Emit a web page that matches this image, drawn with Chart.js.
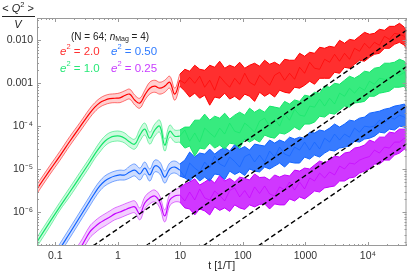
<!DOCTYPE html>
<html lang="en">
<head>
    <meta charset="UTF-8">
    <title>Topological susceptibility vs time</title>
    <script src="https://cdn.jsdelivr.net/npm/chart.js"></script>
    <style>
        body { margin: 0; background: #fff; }
        #chart { display: block; }
    </style>
</head>
<body>
    <canvas id="chart" width="409" height="272"></canvas>
    <script>
        // time grid (units of 1/T)
        const tSmooth = [0.051, 0.082, 0.118, 0.171, 0.247, 0.357, 0.429, 0.516, 0.62, 0.745, 0.895, 1.08,
            1.29, 1.55, 1.87, 2.25, 2.7, 3.24, 3.9, 4.69, 5.63, 6.77, 8.14, 9.8];
        const tNoisy = [9.8, 11.8, 14.1, 17.0, 20.4, 24.5, 29.5, 35.4, 42.6, 51.2, 61.5, 74.0, 88.9, 107, 128,
            154, 185, 223, 268, 322, 387, 465, 559, 672, 808, 971, 1170, 1400, 1690, 2030, 2440, 2930, 3520,
            4230, 5080, 6110, 7340, 8830, 10600, 12700, 15300, 18400, 22100, 26600, 32000, 38500, 41400];

        // e^2 = 2.0
        const redMid = [3.5e-6, 9.6e-6, 2.03e-5, 4.5e-5, 9.6e-5, 2.02e-4, 2.79e-4, 3.55e-4, 4.05e-4, 4.4e-4, 4.5e-4, 4.6e-4,
            5.2e-4, 5.6e-4, 4.05e-4, 3.46e-4, 5.3e-4, 7.7e-4, 8.6e-4, 7.7e-4, 8.6e-4, 1.06e-3, 5.6e-4, 1.18e-3];
        const redHi = [4.45e-6, 1.22e-5, 2.6e-5, 5.8e-5, 1.21e-4, 2.6e-4, 3.55e-4, 4.5e-4, 5.2e-4, 5.6e-4, 5.7e-4, 6.0e-4,
            6.7e-4, 7.3e-4, 5.3e-4, 4.5e-4, 6.9e-4, 1.06e-3, 1.18e-3, 1.06e-3, 1.18e-3, 1.46e-3, 7.7e-4, 1.63e-3];
        const redLo = [2.74e-6, 7.6e-6, 1.6e-5, 3.56e-5, 7.5e-5, 1.59e-4, 2.19e-4, 2.79e-4, 3.19e-4, 3.46e-4, 3.55e-4, 3.55e-4,
            3.95e-4, 4.28e-4, 3.12e-4, 2.64e-4, 4.05e-4, 5.6e-4, 6.2e-4, 5.6e-4, 6.2e-4, 7.7e-4, 4.05e-4, 8.6e-4];
        const redNoiseHi = [1.63e-3, 2.12e-3, 1.91e-3, 2.63e-3, 2.12e-3, 2.01e-3, 2.63e-3, 2.36e-3, 3.26e-3, 2.24e-3,
            2.63e-3, 2.36e-3, 3.09e-3, 2.24e-3, 2.63e-3, 2.93e-3, 2.49e-3, 3.44e-3, 2.77e-3, 3.09e-3, 2.63e-3, 3.62e-3,
            3.44e-3, 3.44e-3, 4.99e-3, 4.25e-3, 5.27e-3, 4.99e-3, 6.88e-3, 6.52e-3, 7.26e-3, 6.88e-3, 1.0e-2, 8.52e-3,
            1.05e-2, 1.0e-2, 1.24e-2, 1.53e-2, 1.38e-2, 1.45e-2, 1.80e-2, 1.71e-2, 2.11e-2, 2.11e-2, 2.48e-2, 2.0e-2, 1.62e-2];
        const redNoiseMid = [1.18e-3, 1.0e-3, 1.38e-3, 1.0e-3, 1.46e-3, 8.1e-4, 1.18e-3, 6.9e-4, 1.46e-3, 1.06e-3, 8.1e-4,
            1.31e-3, 9.5e-4, 1.71e-3, 1.06e-3, 9.0e-4, 1.54e-3, 1.18e-3, 9.0e-4, 1.54e-3, 1.81e-3, 1.18e-3, 1.71e-3,
            1.24e-3, 2.36e-3, 1.71e-3, 3.09e-3, 2.24e-3, 2.12e-3, 3.62e-3, 3.09e-3, 4.73e-3, 3.26e-3, 4.99e-3, 3.62e-3,
            6.52e-3, 5.56e-3, 8.52e-3, 6.52e-3, 8.99e-3, 7.66e-3, 1.24e-2, 1.05e-2, 1.45e-2, 1.38e-2, 1.24e-2, 1.0e-2];
        const redNoiseLo = [8.6e-4, 6.6e-4, 4.8e-4, 5.9e-4, 4.5e-4, 5.3e-4, 3.1e-4, 4.8e-4, 4.5e-4, 5.9e-4, 4.3e-4,
            5.0e-4, 4.1e-4, 5.6e-4, 5.0e-4, 3.8e-4, 6.2e-4, 5.0e-4, 5.9e-4, 4.8e-4, 6.9e-4, 6.2e-4, 5.9e-4, 8.1e-4,
            7.7e-4, 9.0e-4, 1.12e-3, 9.5e-4, 1.31e-3, 1.31e-3, 1.31e-3, 1.81e-3, 1.71e-3, 2.36e-3, 2.24e-3, 2.77e-3,
            3.44e-3, 3.26e-3, 4.03e-3, 4.73e-3, 4.99e-3, 6.52e-3, 6.52e-3, 8.07e-3, 8.99e-3, 7.66e-3, 6.18e-3];

        // e^2 = 1.0
        const greenMid = [2.06e-7, 6.0e-7, 1.34e-6, 2.97e-6, 6.6e-6, 1.48e-5, 2.26e-5, 3.29e-5, 4.5e-5, 5.45e-5, 5.9e-5, 5.9e-5,
            5.3e-5, 4.3e-5, 3.86e-5, 6.25e-5, 8.6e-5, 5.3e-5, 8.2e-5, 1.01e-4, 3.66e-5, 7.7e-5, 5.9e-5, 5.9e-5];
        const greenHi = [2.62e-7, 7.6e-7, 1.7e-6, 3.8e-6, 8.45e-6, 1.88e-5, 2.88e-5, 4.3e-5, 5.9e-5, 7.15e-5, 7.7e-5, 7.7e-5,
            7.0e-5, 5.6e-5, 5.05e-5, 8.6e-5, 1.19e-4, 7.3e-5, 1.13e-4, 1.39e-4, 5.05e-5, 1.07e-4, 8.2e-5, 8.2e-5];
        const greenLo = [1.6e-7, 4.7e-7, 1.11e-6, 2.34e-6, 5.2e-6, 1.16e-5, 1.78e-5, 2.52e-5, 3.47e-5, 4.2e-5, 4.5e-5, 4.5e-5,
            4.07e-5, 3.29e-5, 2.96e-5, 4.5e-5, 6.25e-5, 3.86e-5, 5.9e-5, 7.3e-5, 2.66e-5, 5.6e-5, 4.3e-5, 4.3e-5];
        const greenNoiseHi = [8.2e-5, 9.6e-5, 9.6e-5, 1.39e-4, 1.39e-4, 1.92e-4, 1.39e-4, 1.72e-4, 1.55e-4, 2.02e-4,
            1.47e-4, 1.82e-4, 2.13e-4, 1.82e-4, 2.64e-4, 2.13e-4, 2.5e-4, 2.13e-4, 2.95e-4, 2.8e-4, 2.64e-4, 3.8e-4,
            3.3e-4, 4.1e-4, 3.8e-4, 5.3e-4, 5.0e-4, 6.2e-4, 5.9e-4, 8.6e-4, 8.1e-4, 1.0e-3, 9.5e-4, 1.18e-3, 1.46e-3,
            1.31e-3, 1.54e-3, 1.91e-3, 1.81e-3, 2.24e-3, 2.36e-3, 2.93e-3, 2.93e-3, 3.09e-3, 3.62e-3, 3.26e-3, 2.63e-3];
        const greenNoiseMid = [5.9e-5, 8.2e-5, 4.5e-5, 7.0e-5, 4.3e-5, 9.1e-5, 7.0e-5, 5.6e-5, 9.1e-5, 6.6e-5, 1.19e-4,
            7.7e-5, 7.0e-5, 1.19e-4, 9.6e-5, 7.3e-5, 1.32e-4, 1.55e-4, 1.01e-4, 1.47e-4, 1.01e-4, 1.92e-4, 1.39e-4,
            2.5e-4, 1.82e-4, 1.72e-4, 2.95e-4, 2.8e-4, 4.3e-4, 2.95e-4, 4.5e-4, 3.3e-4, 5.9e-4, 5.0e-4, 7.7e-4, 5.9e-4,
            8.1e-4, 6.9e-4, 1.12e-3, 9.5e-4, 1.31e-3, 1.24e-3, 1.24e-3, 1.63e-3, 1.54e-3, 1.81e-3, 1.31e-3];
        const greenNoiseLo = [4.3e-5, 3.12e-5, 3.47e-5, 2.03e-5, 3.12e-5, 2.96e-5, 4.07e-5, 3.12e-5, 3.66e-5, 2.96e-5,
            4.07e-5, 3.86e-5, 3.12e-5, 5.05e-5, 4.3e-5, 5.05e-5, 4.3e-5, 6.25e-5, 5.6e-5, 5.3e-5, 7.0e-5, 6.6e-5,
            7.7e-5, 9.6e-5, 8.2e-5, 1.13e-4, 1.13e-4, 1.25e-4, 1.72e-4, 1.64e-4, 2.02e-4, 1.92e-4, 2.37e-4, 2.95e-4,
            2.8e-4, 3.5e-4, 3.6e-4, 3.8e-4, 5.0e-4, 5.0e-4, 5.9e-4, 6.2e-4, 6.6e-4, 8.1e-4, 8.1e-4, 8.6e-4, 6.6e-4];

        // e^2 = 0.50
        const blueMid = [2.2e-8, 6.0e-8, 1.42e-7, 3.3e-7, 7.8e-7, 1.84e-6, 2.82e-6, 4.1e-6, 5.35e-6, 6.3e-6, 7.0e-6, 7.4e-6,
            7.4e-6, 8.7e-6, 9.6e-6, 7.8e-6, 1.07e-5, 7.4e-6, 1.19e-5, 1.07e-5, 6.6e-6, 1.02e-5, 1.13e-5, 9.6e-6];
        const blueHi = [2.85e-8, 7.9e-8, 1.85e-7, 4.35e-7, 1.02e-6, 2.4e-6, 3.7e-6, 5.35e-6, 7.0e-6, 8.2e-6, 9.1e-6, 9.6e-6,
            9.6e-6, 1.19e-5, 1.33e-5, 1.07e-5, 1.48e-5, 1.02e-5, 1.64e-5, 1.48e-5, 9.1e-6, 1.4e-5, 1.56e-5, 1.33e-5];
        const blueLo = [1.67e-8, 4.6e-8, 1.09e-7, 2.55e-7, 6.0e-7, 1.41e-6, 2.16e-6, 3.14e-6, 4.1e-6, 4.8e-6, 5.35e-6, 5.65e-6,
            5.65e-6, 6.3e-6, 7.0e-6, 5.65e-6, 7.8e-6, 5.35e-6, 8.7e-6, 7.8e-6, 4.8e-6, 7.4e-6, 8.2e-6, 7.0e-6];
        const blueNoiseHi = [1.33e-5, 1.64e-5, 2.52e-5, 1.93e-5, 2.39e-5, 2.26e-5, 2.96e-5, 2.26e-5, 2.8e-5, 3.2e-5,
            2.66e-5, 3.76e-5, 2.96e-5, 3.38e-5, 2.8e-5, 3.86e-5, 3.66e-5, 3.47e-5, 4.8e-5, 4.07e-5, 4.8e-5, 4.3e-5,
            5.6e-5, 5.05e-5, 5.6e-5, 5.3e-5, 7.3e-5, 7.0e-5, 8.2e-5, 7.7e-5, 9.1e-5, 1.13e-4, 9.6e-5, 1.13e-4, 1.39e-4,
            1.32e-4, 1.55e-4, 1.64e-4, 2.02e-4, 2.13e-4, 2.25e-4, 2.5e-4, 2.64e-4, 2.95e-4, 3.1e-4, 3.3e-4, 2.64e-4];
        const blueNoiseMid = [9.6e-6, 6.6e-6, 1.4e-5, 1.07e-5, 8.7e-6, 1.48e-5, 1.07e-5, 2.03e-5, 1.33e-5, 1.16e-5, 1.93e-5,
            1.52e-5, 1.13e-5, 1.98e-5, 2.26e-5, 1.48e-5, 2.14e-5, 1.48e-5, 2.66e-5, 1.93e-5, 3.29e-5, 2.26e-5, 2.03e-5,
            3.29e-5, 2.8e-5, 4.3e-5, 2.8e-5, 4.3e-5, 2.96e-5, 5.3e-5, 4.3e-5, 6.6e-5, 4.8e-5, 6.6e-5, 5.6e-5, 9.1e-5,
            7.3e-5, 1.01e-4, 9.6e-5, 1.01e-4, 1.39e-4, 1.19e-4, 1.64e-4, 1.47e-4, 1.82e-4, 1.64e-4, 1.47e-4];
        const blueNoiseLo = [7.0e-6, 6.3e-6, 5.35e-6, 7.0e-6, 5.35e-6, 6.6e-6, 5.35e-6, 7.8e-6, 7.4e-6, 5.8e-6, 9.1e-6,
            7.6e-6, 8.7e-6, 7.2e-6, 1.02e-5, 9.1e-6, 8.7e-6, 1.13e-5, 1.02e-5, 1.19e-5, 1.4e-5, 1.13e-5, 1.48e-5, 1.4e-5,
            1.4e-5, 1.93e-5, 1.73e-5, 2.14e-5, 1.93e-5, 2.39e-5, 2.8e-5, 2.66e-5, 3.12e-5, 3.29e-5, 3.47e-5, 4.5e-5,
            4.3e-5, 5.05e-5, 5.3e-5, 5.9e-5, 7.3e-5, 7.0e-5, 8.6e-5, 8.2e-5, 1.01e-4, 9.6e-5, 8.2e-5];

        // e^2 = 0.25
        const magMid = [7.1e-9, 1.76e-8, 3.5e-8, 7.1e-8, 1.42e-7, 3.5e-7, 4.6e-7, 5.7e-7, 6.7e-7, 7.8e-7, 9.2e-7, 1.02e-6,
            1.14e-6, 1.27e-6, 1.34e-6, 9.2e-7, 1.65e-6, 2.16e-6, 2.4e-6, 1.74e-6, 8.25e-7, 1.94e-6, 2.4e-6, 2.53e-6];
        const magHi = [9.8e-9, 2.43e-8, 4.9e-8, 9.7e-8, 1.95e-7, 4.8e-7, 6.3e-7, 7.8e-7, 9.2e-7, 1.08e-6, 1.27e-6, 1.41e-6,
            1.57e-6, 1.74e-6, 1.84e-6, 1.27e-6, 2.28e-6, 2.97e-6, 3.3e-6, 2.4e-6, 1.14e-6, 2.67e-6, 3.3e-6, 3.7e-6];
        const magLo = [5.2e-9, 1.28e-8, 2.56e-8, 5.1e-8, 1.03e-7, 2.55e-7, 3.3e-7, 4.1e-7, 4.8e-7, 5.7e-7, 6.7e-7, 7.4e-7,
            8.25e-7, 9.2e-7, 9.7e-7, 6.7e-7, 1.2e-6, 1.57e-6, 1.74e-6, 1.27e-6, 6.0e-7, 1.41e-6, 1.74e-6, 1.74e-6];
        const magNoiseHi = [3.7e-6, 4.56e-6, 5.07e-6, 6.0e-6, 4.3e-6, 5.07e-6, 6.0e-6, 4.8e-6, 7.2e-6, 5.35e-6, 6.15e-6,
            5.07e-6, 6.6e-6, 6.15e-6, 5.65e-6, 7.8e-6, 6.45e-6, 6.6e-6, 5.65e-6, 7.4e-6, 6.6e-6, 7.4e-6, 7.0e-6, 9.6e-6,
            9.1e-6, 1.07e-5, 1.02e-5, 1.26e-5, 1.56e-5, 1.4e-5, 1.64e-5, 2.03e-5, 1.93e-5, 2.39e-5, 2.52e-5, 3.12e-5,
            3.29e-5, 3.66e-5, 4.79e-5, 4.3e-5, 5.6e-5, 5.6e-5, 7.3e-5, 7.0e-5, 8.6e-5, 8.6e-5, 7.7e-5];
        const magNoiseMid = [2.53e-6, 1.84e-6, 2.97e-6, 1.94e-6, 3.5e-6, 2.16e-6, 1.94e-6, 3.14e-6, 2.47e-6, 1.84e-6,
            3.22e-6, 3.7e-6, 2.28e-6, 3.22e-6, 2.16e-6, 3.9e-6, 2.75e-6, 4.1e-6, 2.67e-6, 2.4e-6, 3.9e-6, 3.3e-6, 5.07e-6,
            3.3e-6, 5.07e-6, 3.5e-6, 6.3e-6, 5.35e-6, 8.2e-6, 6.3e-6, 8.7e-6, 7.4e-6, 1.19e-5, 1.02e-5, 1.4e-5, 1.33e-5,
            1.64e-5, 1.83e-5, 1.98e-5, 2.8e-5, 2.39e-5, 3.29e-5, 3.12e-5, 4.3e-5, 4.3e-5, 5.3e-5, 4.5e-5];
        const magNoiseLo = [1.74e-6, 1.27e-6, 1.2e-6, 8.7e-7, 1.2e-6, 1.08e-6, 8.7e-7, 1.34e-6, 1.11e-6, 1.27e-6, 1.05e-6,
            1.49e-6, 1.27e-6, 1.17e-6, 1.49e-6, 1.34e-6, 1.53e-6, 1.57e-6, 1.2e-6, 1.57e-6, 1.49e-6, 1.49e-6, 2.05e-6,
            1.84e-6, 2.28e-6, 2.05e-6, 2.53e-6, 3.14e-6, 2.97e-6, 3.7e-6, 3.9e-6, 4.1e-6, 5.35e-6, 5.35e-6, 6.3e-6,
            6.6e-6, 8.2e-6, 9.1e-6, 1.02e-5, 1.33e-5, 1.33e-5, 1.64e-5, 1.64e-5, 2.14e-5, 2.39e-5, 2.96e-5, 2.66e-5];

        // dashed guide lines, ~ t^1 (start, end)
        const dashT = [[0.4, 41400], [2.8, 41400], [23, 41400], [175, 41400]];
        const dashQ = [[1.65e-7, 1.71e-2], [1.65e-7, 2.44e-3], [1.65e-7, 2.97e-4], [1.65e-7, 3.9e-5]];

        const xTicks = [0.1, 1, 10, 100, 1000, 10000];
        const xTickLabels = ['0.1', '1', '10', '100', '1000', '10⁴'];
        const yTicks = [1e-6, 1e-5, 1e-4, 1e-3, 1e-2];
        const yTickLabels = ['10⁻⁶', '10⁻⁵', '10⁻⁴', '0.001', '0.010'];

        const FONT = "'Liberation Sans', Arial, sans-serif";
        Chart.defaults.font.family = FONT;

        function pts(ts, qs) {
            return ts.map((t, i) => ({ x: t, y: qs[i] }));
        }

        const series = [
            { c: '#ff0000', band: 'rgba(255,40,40,0.22)', noise: 'rgba(255,10,10,0.85)', mid: redMid, hi: redHi, lo: redLo, nHi: redNoiseHi, nMid: redNoiseMid, nLo: redNoiseLo },
            { c: '#14e66a', band: 'rgba(30,230,110,0.22)', noise: 'rgba(20,232,105,0.85)', mid: greenMid, hi: greenHi, lo: greenLo, nHi: greenNoiseHi, nMid: greenNoiseMid, nLo: greenNoiseLo },
            { c: '#1163ff', band: 'rgba(30,100,255,0.22)', noise: 'rgba(20,100,255,0.85)', mid: blueMid, hi: blueHi, lo: blueLo, nHi: blueNoiseHi, nMid: blueNoiseMid, nLo: blueNoiseLo },
            { c: '#c400ff', band: 'rgba(200,30,255,0.22)', noise: 'rgba(200,20,255,0.85)', mid: magMid, hi: magHi, lo: magLo, nHi: magNoiseHi, nMid: magNoiseMid, nLo: magNoiseLo }
        ];

        const datasets = [];
        dashT.forEach((ts, i) => {
            datasets.push({
                data: pts(ts, dashQ[i]), borderColor: '#000', borderWidth: 1.4,
                borderDash: [5, 3], pointRadius: 0, fill: false, tension: 0
            });
        });
        series.forEach(s => {
            datasets.push({ data: pts(tSmooth, s.mid), borderColor: s.c, borderWidth: 1.2, pointRadius: 0, fill: false, tension: 0.4 });
            datasets.push({ data: pts(tSmooth, s.hi), borderColor: s.c + 'aa', borderWidth: 0.8, pointRadius: 0, fill: false, tension: 0.4 });
            datasets.push({ data: pts(tSmooth, s.lo), borderColor: s.c + 'aa', borderWidth: 0.8, pointRadius: 0, fill: '-1', backgroundColor: s.band, tension: 0.4 });
            datasets.push({ data: pts(tNoisy, s.nMid), borderColor: s.c + 'cc', borderWidth: 0.8, pointRadius: 0, fill: false, tension: 0 });
            datasets.push({ data: pts(tNoisy, s.nHi), borderColor: s.c, borderWidth: 1, pointRadius: 0, fill: false, tension: 0 });
            datasets.push({ data: pts(tNoisy, s.nLo), borderColor: s.c, borderWidth: 1, pointRadius: 0, fill: '-1', backgroundColor: s.noise, tension: 0 });
        });

        // draws text made of pieces (italic, superscripts, subscripts)
        function drawRich(ctx, x, y, parts, align) {
            let w = 0;
            parts.forEach(p => {
                ctx.font = (p.it ? 'italic ' : '') + p.size + 'px ' + FONT;
                p.w = ctx.measureText(p.t).width;
                w += p.w;
            });
            let cx = align === 'center' ? x - w / 2 : x;
            ctx.textBaseline = 'middle';
            ctx.textAlign = 'left';
            parts.forEach(p => {
                ctx.font = (p.it ? 'italic ' : '') + p.size + 'px ' + FONT;
                ctx.fillText(p.t, cx, y + (p.dy || 0));
                cx += p.w;
            });
        }

        const framePlugin = {
            id: 'frame',
            afterDatasetsDraw(chart) {
                const { ctx, chartArea: a, scales: { x, y } } = chart;
                ctx.save();
                ctx.strokeStyle = '#9a9a9a';
                ctx.lineWidth = 1;
                ctx.strokeRect(a.left + 0.5, a.top + 0.5, a.right - a.left - 1, a.bottom - a.top - 1);
                ctx.beginPath();
                for (let e = -2; e <= 4; e++) {
                    for (let m = 1; m <= 9; m++) {
                        const v = m * Math.pow(10, e);
                        if (v < x.min || v > x.max) continue;
                        const px = Math.round(x.getPixelForValue(v)) + 0.5;
                        const len = m === 1 ? 4 : 2;
                        ctx.moveTo(px, a.bottom); ctx.lineTo(px, a.bottom - len);
                        ctx.moveTo(px, a.top); ctx.lineTo(px, a.top + len);
                    }
                }
                for (let e = -8; e <= -2; e++) {
                    for (let m = 1; m <= 9; m++) {
                        const v = m * Math.pow(10, e);
                        if (v < y.min || v > y.max) continue;
                        const py = Math.round(y.getPixelForValue(v)) + 0.5;
                        const len = m === 1 ? 4 : 2;
                        ctx.moveTo(a.left, py); ctx.lineTo(a.left + len, py);
                        ctx.moveTo(a.right, py); ctx.lineTo(a.right - len, py);
                    }
                }
                ctx.stroke();
                ctx.restore();
            },
            afterDraw(chart) {
                const { ctx, chartArea: a } = chart;
                ctx.save();
                ctx.fillStyle = '#222';
                // y axis title as a fraction
                drawRich(ctx, 18, 9, [
                    { t: '< ', size: 11 }, { t: 'Q', size: 11, it: true },
                    { t: '2', size: 7.5, dy: -4 }, { t: ' >', size: 11 }
                ], 'center');
                ctx.strokeStyle = '#222';
                ctx.lineWidth = 1;
                ctx.beginPath();
                ctx.moveTo(2, 16.5); ctx.lineTo(35, 16.5);
                ctx.stroke();
                drawRich(ctx, 18, 25, [{ t: 'V', size: 11, it: true }], 'center');
                // x axis title
                ctx.font = '10.5px ' + FONT;
                ctx.textAlign = 'center';
                ctx.textBaseline = 'middle';
                ctx.fillText('t [1/T]', (a.left + a.right) / 2, 266);
                // annotation
                drawRich(ctx, 71, 37, [
                    { t: '(N = 64; ', size: 10 }, { t: 'n', size: 10, it: true },
                    { t: 'Mag', size: 7, dy: 2.5 }, { t: ' = 4)', size: 10 }
                ]);
                const leg = [
                    { x: 60, y: 52, c: '#ff3030', v: '2.0' },
                    { x: 111, y: 52, c: '#2f7bff', v: '0.50' },
                    { x: 60, y: 69, c: '#28e878', v: '1.0' },
                    { x: 111, y: 69, c: '#c83cff', v: '0.25' }
                ];
                leg.forEach(l => {
                    ctx.fillStyle = l.c;
                    drawRich(ctx, l.x, l.y, [
                        { t: 'e', size: 11.5, it: true }, { t: '2', size: 7.5, dy: -5 },
                        { t: ' = ' + l.v, size: 11.5 }
                    ]);
                });
                ctx.restore();
            }
        };

        new Chart(document.getElementById('chart').getContext('2d'), {
            type: 'line',
            data: { datasets: datasets },
            options: {
                responsive: false,
                animation: false,
                layout: { padding: { top: 18, right: 2.5, left: 0, bottom: 0 } },
                plugins: { legend: { display: false }, tooltip: { enabled: false } },
                scales: {
                    x: {
                        type: 'logarithmic', min: 0.051, max: 41400,
                        afterBuildTicks: s => { s.ticks = xTicks.map(v => ({ value: v })); },
                        afterFit: s => { s.height = 26; },
                        grid: { display: false, drawTicks: false }, border: { display: false },
                        ticks: {
                            autoSkip: false, maxRotation: 0, padding: 4, color: '#333',
                            font: { size: 10.5 },
                            callback: (v, i) => xTickLabels[i]
                        }
                    },
                    y: {
                        type: 'logarithmic', min: 1.65e-7, max: 0.033,
                        afterBuildTicks: s => { s.ticks = yTicks.map(v => ({ value: v })); },
                        afterFit: s => { s.width = 37; },
                        grid: { display: false, drawTicks: false }, border: { display: false },
                        ticks: {
                            autoSkip: false, padding: 4, color: '#333',
                            font: { size: 10.5 },
                            callback: (v, i) => yTickLabels[i]
                        }
                    }
                }
            },
            plugins: [framePlugin]
        });
    </script>
</body>
</html>
